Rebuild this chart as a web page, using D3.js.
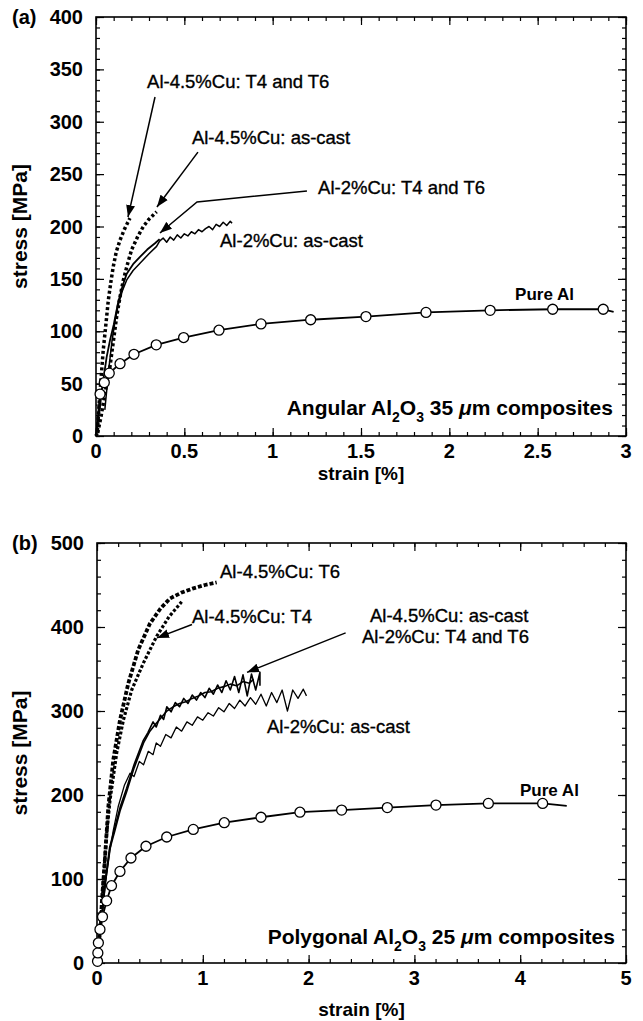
<!DOCTYPE html>
<html>
<head>
<meta charset="utf-8">
<script src="https://cdn.jsdelivr.net/npm/d3@7"></script>
<style>
  body { margin: 0; background: #fff; }
  svg { display: block; }
  text { font-family: "Liberation Sans", Arial, Helvetica, sans-serif; fill: #000; }
</style>
</head>
<body>
<svg id="chart"></svg>
<script>
// ---- panel (a): angular Al2O3 35 um ----
const aStrainTicks = [0, 0.5, 1, 1.5, 2, 2.5, 3];
const aStressTicks = [0, 50, 100, 150, 200, 250, 300, 350, 400];
const aPureAl = [[0, 0], [0.023, 40], [0.047, 51], [0.075, 60], [0.136, 69], [0.215, 78], [0.341, 87],
  [0.496, 94], [0.696, 101], [0.934, 107], [1.215, 111], [1.528, 114], [1.868, 118], [2.231, 120],
  [2.585, 121], [2.871, 121], [2.93, 118.5]];
const aPureAlMarkers = [0.023, 0.047, 0.075, 0.136, 0.215, 0.341, 0.496, 0.696, 0.934, 1.215, 1.528, 1.868, 2.231, 2.585, 2.871];
const aCu45Heat = [[0, 0], [0.007, 3], [0.019, 34], [0.03, 58], [0.041, 82], [0.055, 105], [0.07, 130],
  [0.085, 148], [0.098, 162], [0.115, 176], [0.136, 187], [0.16, 197], [0.192, 208]];
const aCu45Cast = [[0.01, 3], [0.03, 20], [0.05, 40], [0.079, 66], [0.098, 90], [0.117, 114], [0.135, 132],
  [0.155, 149], [0.178, 164], [0.202, 178], [0.235, 190], [0.268, 200], [0.30, 207], [0.343, 214]];
const aCu2Heat = [[0, 0], [0.02, 25], [0.04, 52], [0.06, 75], [0.08, 92], [0.10, 106], [0.126, 128],
  [0.15, 143], [0.174, 155], [0.21, 164], [0.249, 171], [0.29, 178], [0.334, 184], [0.36, 188]];
const aCu2Cast = [[0.05, 25], [0.07, 60], [0.09, 90], [0.11, 112], [0.126, 125], [0.15, 139], [0.174, 149],
  [0.21, 158], [0.249, 165], [0.30, 174], [0.343, 181], [0.36, 186], [0.38, 189], [0.40, 185], [0.42, 190],
  [0.44, 187], [0.46, 192], [0.48, 189], [0.50, 193], [0.52, 191], [0.54, 195], [0.56, 193], [0.58, 197],
  [0.60, 195], [0.62, 198], [0.64, 200], [0.66, 197], [0.68, 202], [0.70, 200], [0.72, 204], [0.74, 201],
  [0.76, 205], [0.77, 203]];

// ---- panel (b): polygonal Al2O3 25 um ----
const bStrainTicks = [0, 1, 2, 3, 4, 5];
const bStressTicks = [0, 100, 200, 300, 400, 500];
const bPureAl = [[0, 0], [0.005, 2], [0.008, 12], [0.013, 24], [0.028, 40], [0.052, 55], [0.091, 74],
  [0.137, 92], [0.217, 109], [0.321, 125], [0.463, 139], [0.659, 150], [0.91, 159], [1.203, 167],
  [1.55, 173.5], [1.918, 179.5], [2.312, 182], [2.744, 185], [3.204, 188], [3.699, 190], [4.212, 190], [4.44, 187]];
const bPureAlMarkers = [0.005, 0.008, 0.013, 0.028, 0.052, 0.091, 0.137, 0.217, 0.321, 0.463, 0.659, 0.91,
  1.203, 1.55, 1.918, 2.312, 2.744, 3.204, 3.699, 4.212];
const bCu45T6 = [[0, 0], [0.03, 40], [0.05, 80], [0.076, 126], [0.107, 186], [0.154, 242], [0.217, 289],
  [0.296, 333], [0.39, 373], [0.50, 404], [0.60, 422], [0.69, 434], [0.80, 441], [0.91, 446], [1.02, 450], [1.131, 453]];
const bCu45T4 = [[0, 0], [0.03, 40], [0.055, 85], [0.085, 146], [0.123, 194], [0.186, 250], [0.249, 289],
  [0.328, 325], [0.438, 357], [0.564, 389], [0.68, 412], [0.80, 430]];
const bCu45Cast = [[0, 0], [0.04, 50], [0.08, 100], [0.12, 138], [0.17, 162], [0.22, 186], [0.28, 208],
  [0.35, 236], [0.438, 265], [0.48, 274], [0.53, 287], [0.56, 281], [0.60, 295], [0.63, 290], [0.66, 305],
  [0.70, 299], [0.74, 310], [0.78, 305], [0.82, 315], [0.86, 309], [0.90, 319], [0.94, 313], [0.98, 322],
  [1.02, 316], [1.06, 327], [1.10, 320], [1.14, 331], [1.18, 322], [1.22, 336], [1.26, 325], [1.30, 341],
  [1.34, 322], [1.38, 343], [1.42, 318], [1.46, 344], [1.50, 325], [1.54, 346], [1.54, 330]];
const bCu2Heat = [[0, 0], [0.04, 48], [0.08, 97], [0.12, 135], [0.17, 158], [0.22, 182], [0.28, 204],
  [0.35, 232], [0.44, 262], [0.50, 276], [0.55, 284], [0.60, 291], [0.66, 300], [0.72, 305], [0.78, 309],
  [0.84, 311], [0.90, 315], [0.96, 318], [1.02, 322], [1.08, 323], [1.14, 327], [1.20, 329], [1.26, 332],
  [1.32, 330], [1.38, 335], [1.44, 333], [1.48, 338]];
const bCu2Cast = [[0, 0], [0.04, 45], [0.08, 95], [0.123, 134], [0.154, 158], [0.20, 186], [0.26, 212],
  [0.312, 226], [0.35, 222], [0.40, 240], [0.44, 236], [0.485, 252], [0.53, 248], [0.56, 262], [0.60, 258],
  [0.65, 272], [0.70, 268], [0.75, 281], [0.80, 276], [0.85, 287], [0.90, 283], [0.95, 293], [1.00, 289],
  [1.05, 298], [1.10, 294], [1.15, 304], [1.20, 299], [1.25, 309], [1.30, 303], [1.35, 313], [1.40, 306],
  [1.45, 316], [1.50, 308], [1.55, 320], [1.60, 306], [1.65, 322], [1.70, 310], [1.75, 325], [1.80, 300],
  [1.85, 325], [1.90, 315], [1.95, 326], [1.98, 318]];

const W = 643, H = 1021;
const svg = d3.select("#chart").attr("width", W).attr("height", H);

svg.append("defs").append("marker")
    .attr("id", "arrowhead")
    .attr("viewBox", "0 -5 12 10")
    .attr("refX", 12)
    .attr("refY", 0)
    .attr("orient", "auto")
    .attr("markerUnits", "userSpaceOnUse")
    .attr("markerWidth", 12)
    .attr("markerHeight", 10)
    .append("path")
    .attr("d", "M0,-4.5L12,0L0,4.5Z")
    .attr("fill", "#000");

function drawPanel(p) {
    const x = d3.scaleLinear().domain(p.xDomain).range([p.left, p.right]);
    const y = d3.scaleLinear().domain(p.yDomain).range([p.bottom, p.top]);
    const g = svg.append("g");

    // minor + major ticks on all four sides (inward)
    const addAxis = (axisFn, scale, vals, size, transform) => {
        g.append("g")
            .attr("transform", transform)
            .call(axisFn(scale).tickValues(vals).tickSize(size).tickFormat(""))
            .call(s => s.select(".domain").remove())
            .selectAll("line").attr("stroke", "#000").attr("stroke-width", 1.2);
    };
    const minorX = d3.range(p.xDomain[0], p.xDomain[1] + 1e-9, p.xMinor);
    const minorY = d3.range(p.yDomain[0], p.yDomain[1] + 1e-9, p.yMinor);
    addAxis(d3.axisBottom, x, minorX, -4, `translate(0,${p.bottom})`);
    addAxis(d3.axisBottom, x, p.xTicks, -8, `translate(0,${p.bottom})`);
    addAxis(d3.axisTop, x, minorX, -4, `translate(0,${p.top})`);
    addAxis(d3.axisTop, x, p.xTicks, -8, `translate(0,${p.top})`);
    addAxis(d3.axisLeft, y, minorY, -4, `translate(${p.left},0)`);
    addAxis(d3.axisLeft, y, p.yTicks, -8, `translate(${p.left},0)`);
    addAxis(d3.axisRight, y, minorY, -4, `translate(${p.right},0)`);
    addAxis(d3.axisRight, y, p.yTicks, -8, `translate(${p.right},0)`);

    g.append("rect")
        .attr("x", p.left).attr("y", p.top)
        .attr("width", p.right - p.left).attr("height", p.bottom - p.top)
        .attr("fill", "none").attr("stroke", "#000").attr("stroke-width", 1.6);

    // tick labels
    g.selectAll(".xlab").data(p.xTicks).enter().append("text")
        .attr("x", d => x(d)).attr("y", p.bottom + 22)
        .attr("text-anchor", "middle")
        .style("font-size", "20px").style("font-weight", "bold")
        .text(d => d);
    g.selectAll(".ylab").data(p.yTicks).enter().append("text")
        .attr("x", p.left - 13).attr("y", d => y(d) + 7)
        .attr("text-anchor", "end")
        .style("font-size", "20px").style("font-weight", "bold")
        .text(d => d);

    // axis titles
    g.append("text")
        .attr("x", (p.left + p.right) / 2).attr("y", p.xTitleY)
        .attr("text-anchor", "middle")
        .style("font-size", "19px").style("font-weight", "bold")
        .text("strain [%]");
    g.append("text")
        .attr("transform", `translate(27,${(p.top + p.bottom) / 2}) rotate(-90)`)
        .attr("text-anchor", "middle")
        .style("font-size", "21px").style("font-weight", "bold")
        .text("stress [MPa]");
    g.append("text")
        .attr("x", 12).attr("y", p.top + 7)
        .style("font-size", "20px").style("font-weight", "bold")
        .text(p.tag);

    const line = d3.line().x(d => x(d[0])).y(d => y(d[1]));

    p.series.forEach(s => {
        g.append("path")
            .datum(s.data)
            .attr("d", line)
            .attr("fill", "none")
            .attr("stroke", "#000")
            .attr("stroke-width", s.width)
            .attr("stroke-dasharray", s.dash || null)
            .attr("stroke-linejoin", "round");
    });

    // pure Al open circles
    const pure = p.pure;
    const interp = v => {
        const i = pure.findIndex(d => d[0] >= v);
        return pure[i][1];
    };
    g.selectAll(".marker").data(p.markers).enter().append("circle")
        .attr("cx", d => x(d)).attr("cy", d => y(interp(d)))
        .attr("r", 5)
        .attr("fill", "#fff").attr("stroke", "#000").attr("stroke-width", 1.3);

    // arrows
    p.arrows.forEach(a => {
        g.append("path")
            .attr("d", d3.line().x(d => x(d[0])).y(d => y(d[1]))(a))
            .attr("fill", "none").attr("stroke", "#000").attr("stroke-width", 1.5)
            .attr("marker-end", "url(#arrowhead)");
    });

    // labels
    p.labels.forEach(l => {
        g.append("text")
            .attr("x", x(l.at[0])).attr("y", y(l.at[1]) + 6.5)
            .attr("text-anchor", l.anchor || "start")
            .style("font-size", l.size || "18.5px")
            .style("font-weight", l.bold ? "bold" : "normal")
            .style("stroke", l.bold ? "none" : "#000")
            .style("stroke-width", 0.35)
            .text(l.text);
    });

    // composite label with subscripts
    const t = g.append("text")
        .attr("x", x(p.comp.at[0])).attr("y", y(p.comp.at[1]) + 7)
        .attr("text-anchor", "end")
        .style("font-size", "21px").style("font-weight", "bold");
    t.append("tspan").text(p.comp.shape + " Al");
    t.append("tspan").attr("dy", 7).style("font-size", "14px").text("2");
    t.append("tspan").attr("dy", -7).text("O");
    t.append("tspan").attr("dy", 7).style("font-size", "14px").text("3");
    t.append("tspan").attr("dy", -7).text(" " + p.comp.size + " ");
    t.append("tspan").style("font-style", "italic").text("\u03bc");
    t.append("tspan").text("m composites");
}

drawPanel({
    tag: "(a)",
    left: 96, right: 626, top: 17, bottom: 436,
    xDomain: [0, 3], yDomain: [0, 400],
    xTicks: aStrainTicks, yTicks: aStressTicks, xMinor: 0.1, yMinor: 10,
    xTitleY: 480,
    series: [
        { data: aPureAl, width: 1.8 },
        { data: aCu2Cast, width: 1.5 },
        { data: aCu2Heat, width: 1.8 },
        { data: aCu45Heat, width: 3.5, dash: "3 2.5" },
        { data: aCu45Cast, width: 3.5, dash: "3 2.5" }
    ],
    pure: aPureAl, markers: aPureAlMarkers,
    arrows: [
        [[0.334, 323.6], [0.181, 209]],
        [[0.577, 271], [0.345, 218.6]],
        [[1.194, 233.9], [0.572, 223.4], [0.362, 193.8]]
    ],
    labels: [
        { text: "Al-4.5%Cu: T4 and T6", at: [0.289, 338] },
        { text: "Al-4.5%Cu: as-cast", at: [0.543, 285.4] },
        { text: "Al-2%Cu: T4 and T6", at: [1.257, 236.8] },
        { text: "Al-2%Cu: as-cast", at: [0.702, 187] },
        { text: "Pure Al", at: [2.372, 136.5], bold: true, size: "17px" }
    ],
    comp: { shape: "Angular", size: "35", at: [2.926, 26.7] }
});

drawPanel({
    tag: "(b)",
    left: 97, right: 626, top: 543, bottom: 963,
    xDomain: [0, 5], yDomain: [0, 500],
    xTicks: bStrainTicks, yTicks: bStressTicks, xMinor: 0.2, yMinor: 20,
    xTitleY: 1016,
    series: [
        { data: bPureAl, width: 1.8 },
        { data: bCu2Cast, width: 1.3 },
        { data: bCu2Heat, width: 1.6 },
        { data: bCu45Cast, width: 1.6 },
        { data: bCu45T4, width: 3.2, dash: "3 2" },
        { data: bCu45T6, width: 3.8, dash: "4 2" }
    ],
    pure: bPureAl, markers: bPureAlMarkers,
    arrows: [
        [[0.898, 403], [0.567, 387]],
        [[2.35, 393], [1.418, 346]]
    ],
    labels: [
        { text: "Al-4.5%Cu: T6", at: [1.163, 465.5] },
        { text: "Al-4.5%Cu: T4", at: [0.898, 412] },
        { text: "Al-4.5%Cu: as-cast", at: [2.58, 414] },
        { text: "Al-2%Cu: T4 and T6", at: [2.505, 389] },
        { text: "Al-2%Cu: as-cast", at: [1.607, 281] },
        { text: "Pure Al", at: [3.998, 206], bold: true, size: "17px" }
    ],
    comp: { shape: "Polygonal", size: "25", at: [4.895, 31] }
});
</script>
</body>
</html>
